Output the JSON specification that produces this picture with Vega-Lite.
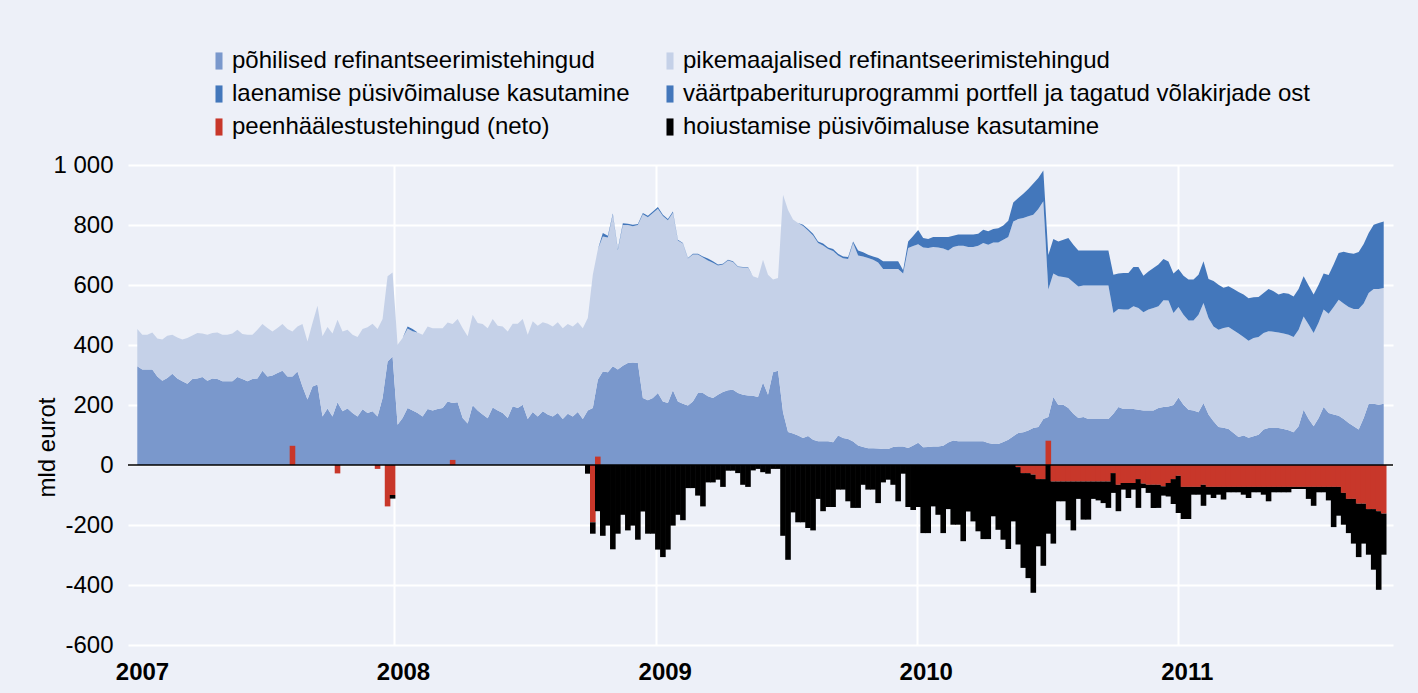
{
"$schema":"https://vega.github.io/schema/vega-lite/v6.json",
"width":1265,"height":480,
"autosize":{"type":"none"},
"padding":{"left":128,"top":165,"right":25,"bottom":48},
"background":"#edf0f8",
"config":{"view":{"stroke":null},"font":"Liberation Sans",
"axisX":{"labelFontSize":24,"labelFontWeight":"bold","labelPadding":15,"labelOffset":9,"labelFlush":false,"ticks":false,"tickSize":0,"domain":false,"gridColor":"#ffffff","gridWidth":2,"labelColor":"#000000","labelOverlap":false},
"axisY":{"labelFontSize":24,"labelPadding":15,"ticks":false,"tickSize":0,"domain":false,"gridColor":"#ffffff","gridWidth":2,"labelColor":"#000000","titleFontSize":24,"titleFontWeight":"normal","titleColor":"#000000"}},
"data":{"values":[
{"d":"2007-01-07","a":329,"b":124,"c":0,"s":0},
{"d":"2007-01-14","a":318,"b":116,"c":0,"s":0},
{"d":"2007-01-21","a":318,"b":116,"c":0,"s":0},
{"d":"2007-01-28","a":318,"b":124,"c":0,"s":0},
{"d":"2007-02-04","a":295,"b":127,"c":0,"s":0},
{"d":"2007-02-11","a":281,"b":137,"c":0,"s":0},
{"d":"2007-02-18","a":290,"b":141,"c":0,"s":0},
{"d":"2007-02-25","a":304,"b":130,"c":0,"s":0},
{"d":"2007-03-04","a":288,"b":137,"c":0,"s":0},
{"d":"2007-03-11","a":279,"b":139,"c":0,"s":0},
{"d":"2007-03-18","a":271,"b":152,"c":0,"s":0},
{"d":"2007-03-25","a":287,"b":145,"c":0,"s":0},
{"d":"2007-04-01","a":288,"b":152,"c":0,"s":0},
{"d":"2007-04-08","a":293,"b":145,"c":0,"s":0},
{"d":"2007-04-15","a":281,"b":153,"c":0,"s":0},
{"d":"2007-04-22","a":288,"b":152,"c":0,"s":0},
{"d":"2007-04-29","a":287,"b":155,"c":0,"s":0},
{"d":"2007-05-06","a":279,"b":155,"c":0,"s":0},
{"d":"2007-05-13","a":279,"b":155,"c":0,"s":0},
{"d":"2007-05-20","a":279,"b":159,"c":0,"s":0},
{"d":"2007-05-27","a":293,"b":158,"c":0,"s":0},
{"d":"2007-06-03","a":287,"b":150,"c":0,"s":0},
{"d":"2007-06-10","a":279,"b":155,"c":0,"s":0},
{"d":"2007-06-17","a":287,"b":147,"c":0,"s":0},
{"d":"2007-06-24","a":288,"b":163,"c":0,"s":0},
{"d":"2007-07-01","a":314,"b":156,"c":0,"s":0},
{"d":"2007-07-08","a":295,"b":162,"c":0,"s":0},
{"d":"2007-07-15","a":298,"b":147,"c":0,"s":0},
{"d":"2007-07-22","a":307,"b":150,"c":0,"s":0},
{"d":"2007-07-29","a":314,"b":156,"c":0,"s":0},
{"d":"2007-08-05","a":295,"b":158,"c":0,"s":0},
{"d":"2007-08-12","a":295,"b":150,"c":0,"s":0,"f":64},
{"d":"2007-08-19","a":312,"b":150,"c":0,"s":0},
{"d":"2007-08-26","a":262,"b":208,"c":0,"s":0},
{"d":"2007-09-02","a":218,"b":194,"c":0,"s":0},
{"d":"2007-09-09","a":262,"b":211,"c":0,"s":0},
{"d":"2007-09-16","a":268,"b":263,"c":0,"s":0},
{"d":"2007-09-23","a":162,"b":267,"c":0,"s":0},
{"d":"2007-09-30","a":188,"b":272,"c":0,"s":0},
{"d":"2007-10-07","a":162,"b":276,"c":0,"s":0},
{"d":"2007-10-14","a":209,"b":275,"c":0,"s":0,"f":-28},
{"d":"2007-10-21","a":179,"b":266,"c":0,"s":0},
{"d":"2007-10-28","a":188,"b":263,"c":0,"s":0},
{"d":"2007-11-04","a":173,"b":261,"c":0,"s":0},
{"d":"2007-11-11","a":162,"b":265,"c":0,"s":0},
{"d":"2007-11-18","a":186,"b":267,"c":0,"s":0},
{"d":"2007-11-25","a":173,"b":286,"c":0,"s":0},
{"d":"2007-12-02","a":179,"b":292,"c":0,"s":0},
{"d":"2007-12-09","a":162,"b":291,"c":0,"s":0,"f":-13},
{"d":"2007-12-16","a":223,"b":264,"c":0,"s":0},
{"d":"2007-12-23","a":345,"b":284,"c":0,"s":0,"f":-138},
{"d":"2007-12-30","a":362,"b":280,"c":0,"s":0,"f":-100,"g":-12},
{"d":"2008-01-06","a":134,"b":267,"c":0,"s":0},
{"d":"2008-01-13","a":157,"b":266,"c":0,"s":0},
{"d":"2008-01-20","a":190,"b":265,"c":7,"s":0},
{"d":"2008-01-27","a":182,"b":264,"c":7,"s":0},
{"d":"2008-02-03","a":173,"b":269,"c":0,"s":0},
{"d":"2008-02-10","a":162,"b":272,"c":0,"s":0},
{"d":"2008-02-17","a":187,"b":275,"c":0,"s":0},
{"d":"2008-02-24","a":182,"b":274,"c":0,"s":0},
{"d":"2008-03-02","a":187,"b":269,"c":0,"s":0},
{"d":"2008-03-09","a":190,"b":266,"c":0,"s":0},
{"d":"2008-03-16","a":212,"b":263,"c":0,"s":0},
{"d":"2008-03-23","a":207,"b":263,"c":0,"s":0,"f":17},
{"d":"2008-03-30","a":209,"b":278,"c":0,"s":0},
{"d":"2008-04-06","a":157,"b":299,"c":0,"s":0},
{"d":"2008-04-13","a":138,"b":291,"c":0,"s":0},
{"d":"2008-04-20","a":199,"b":302,"c":0,"s":0},
{"d":"2008-04-27","a":182,"b":291,"c":0,"s":0},
{"d":"2008-05-04","a":168,"b":302,"c":0,"s":0},
{"d":"2008-05-11","a":156,"b":300,"c":0,"s":0},
{"d":"2008-05-18","a":192,"b":295,"c":0,"s":0},
{"d":"2008-05-25","a":182,"b":282,"c":0,"s":0},
{"d":"2008-06-01","a":173,"b":289,"c":0,"s":0},
{"d":"2008-06-08","a":157,"b":288,"c":0,"s":0},
{"d":"2008-06-15","a":196,"b":275,"c":0,"s":0},
{"d":"2008-06-22","a":190,"b":281,"c":0,"s":0},
{"d":"2008-06-29","a":201,"b":286,"c":0,"s":0},
{"d":"2008-07-06","a":153,"b":281,"c":0,"s":0},
{"d":"2008-07-13","a":177,"b":302,"c":0,"s":0},
{"d":"2008-07-20","a":162,"b":302,"c":0,"s":0},
{"d":"2008-07-27","a":179,"b":297,"c":0,"s":0},
{"d":"2008-08-03","a":168,"b":303,"c":0,"s":0},
{"d":"2008-08-10","a":162,"b":300,"c":0,"s":0},
{"d":"2008-08-17","a":173,"b":303,"c":0,"s":0},
{"d":"2008-08-24","a":153,"b":303,"c":0,"s":0},
{"d":"2008-08-31","a":171,"b":299,"c":0,"s":0},
{"d":"2008-09-07","a":162,"b":300,"c":0,"s":0},
{"d":"2008-09-14","a":177,"b":299,"c":0,"s":0},
{"d":"2008-09-21","a":153,"b":303,"c":0,"s":0},
{"d":"2008-09-28","a":182,"b":308,"c":0,"s":0,"g":-29},
{"d":"2008-10-05","a":190,"b":444,"c":0,"s":0,"f":-191,"g":-38},
{"d":"2008-10-12","a":284,"b":434,"c":0,"s":0,"f":28,"g":-154},
{"d":"2008-10-19","a":312,"b":450,"c":11,"s":0,"g":-236},
{"d":"2008-10-26","a":309,"b":449,"c":6,"s":0,"g":-202},
{"d":"2008-11-02","a":329,"b":505,"c":4,"s":0,"g":-281},
{"d":"2008-11-09","a":318,"b":398,"c":4,"s":0,"g":-229},
{"d":"2008-11-16","a":331,"b":469,"c":6,"s":0,"g":-166},
{"d":"2008-11-23","a":340,"b":460,"c":4,"s":0,"g":-218},
{"d":"2008-11-30","a":342,"b":454,"c":5,"s":0,"g":-202},
{"d":"2008-12-07","a":340,"b":460,"c":3,"s":0,"g":-249},
{"d":"2008-12-14","a":223,"b":613,"c":4,"s":0,"g":-155},
{"d":"2008-12-21","a":216,"b":610,"c":5,"s":0,"g":-229},
{"d":"2008-12-28","a":223,"b":617,"c":5,"s":0,"g":-229},
{"d":"2009-01-04","a":240,"b":614,"c":6,"s":0,"g":-282},
{"d":"2009-01-11","a":212,"b":618,"c":4,"s":0,"g":-307},
{"d":"2009-01-18","a":207,"b":609,"c":4,"s":0,"g":-282},
{"d":"2009-01-25","a":249,"b":592,"c":4,"s":0,"g":-202},
{"d":"2009-02-01","a":212,"b":536,"c":3,"s":0,"g":-166},
{"d":"2009-02-08","a":204,"b":534,"c":2,"s":0,"g":-184},
{"d":"2009-02-15","a":198,"b":490,"c":2,"s":0,"g":-77},
{"d":"2009-02-22","a":212,"b":490,"c":2,"s":0,"g":-77},
{"d":"2009-03-01","a":240,"b":462,"c":2,"s":0,"g":-102},
{"d":"2009-03-08","a":240,"b":452,"c":3,"s":0,"g":-138},
{"d":"2009-03-15","a":229,"b":453,"c":6,"s":0,"g":-58},
{"d":"2009-03-22","a":223,"b":451,"c":5,"s":0,"g":-58},
{"d":"2009-03-29","a":234,"b":431,"c":3,"s":0,"g":-49},
{"d":"2009-04-05","a":243,"b":425,"c":3,"s":0,"g":-73},
{"d":"2009-04-12","a":249,"b":433,"c":2,"s":0,"g":-19},
{"d":"2009-04-19","a":251,"b":426,"c":2,"s":0,"g":-19},
{"d":"2009-04-26","a":240,"b":420,"c":2,"s":0,"g":-27},
{"d":"2009-05-03","a":234,"b":424,"c":2,"s":0,"g":-66},
{"d":"2009-05-10","a":232,"b":426,"c":2,"s":0,"g":-73},
{"d":"2009-05-17","a":231,"b":398,"c":0,"s":0,"g":-18},
{"d":"2009-05-24","a":227,"b":396,"c":0,"s":0,"g":-13},
{"d":"2009-05-31","a":275,"b":409,"c":0,"s":0,"g":-24},
{"d":"2009-06-07","a":234,"b":400,"c":0,"s":0,"g":-29},
{"d":"2009-06-14","a":309,"b":309,"c":0,"s":0,"g":-13},
{"d":"2009-06-21","a":314,"b":309,"c":0,"s":0,"g":-13},
{"d":"2009-06-28","a":176,"b":725,"c":0,"s":0,"g":-236},
{"d":"2009-07-05","a":110,"b":740,"c":0,"s":0,"g":-316},
{"d":"2009-07-12","a":105,"b":713,"c":0,"s":0,"g":-158},
{"d":"2009-07-19","a":98,"b":709,"c":0,"s":0,"g":-191},
{"d":"2009-07-26","a":90,"b":707,"c":0,"s":4,"g":-191},
{"d":"2009-08-02","a":97,"b":685,"c":0,"s":5,"g":-210},
{"d":"2009-08-09","a":84,"b":681,"c":0,"s":6,"g":-218},
{"d":"2009-08-16","a":79,"b":661,"c":0,"s":5,"g":-113},
{"d":"2009-08-23","a":79,"b":653,"c":0,"s":6,"g":-154},
{"d":"2009-08-30","a":79,"b":641,"c":0,"s":5,"g":-140},
{"d":"2009-09-06","a":76,"b":637,"c":0,"s":7,"g":-140},
{"d":"2009-09-13","a":98,"b":600,"c":0,"s":6,"g":-82},
{"d":"2009-09-20","a":90,"b":599,"c":0,"s":6,"g":-82},
{"d":"2009-09-27","a":87,"b":600,"c":0,"s":6,"g":-121},
{"d":"2009-10-04","a":78,"b":662,"c":0,"s":5,"g":-143},
{"d":"2009-10-11","a":65,"b":633,"c":0,"s":17,"g":-143},
{"d":"2009-10-18","a":60,"b":635,"c":0,"s":14,"g":-66},
{"d":"2009-10-25","a":56,"b":634,"c":0,"s":11,"g":-82},
{"d":"2009-11-01","a":56,"b":628,"c":0,"s":11,"g":-82},
{"d":"2009-11-08","a":55,"b":620,"c":0,"s":15,"g":-127},
{"d":"2009-11-15","a":53,"b":600,"c":0,"s":26,"g":-58},
{"d":"2009-11-22","a":53,"b":600,"c":0,"s":26,"g":-49},
{"d":"2009-11-29","a":60,"b":593,"c":0,"s":26,"g":-66},
{"d":"2009-12-06","a":62,"b":591,"c":0,"s":26,"g":-121},
{"d":"2009-12-13","a":62,"b":576,"c":0,"s":11,"g":-29},
{"d":"2009-12-20","a":57,"b":666,"c":0,"s":22,"g":-140},
{"d":"2009-12-27","a":65,"b":665,"c":0,"s":33,"g":-150},
{"d":"2010-01-03","a":74,"b":662,"c":0,"s":47,"g":-140},
{"d":"2010-01-10","a":59,"b":666,"c":0,"s":32,"g":-227},
{"d":"2010-01-17","a":60,"b":663,"c":0,"s":30,"g":-227},
{"d":"2010-01-24","a":62,"b":665,"c":0,"s":33,"g":-138},
{"d":"2010-01-31","a":62,"b":663,"c":0,"s":35,"g":-166},
{"d":"2010-02-07","a":64,"b":658,"c":0,"s":38,"g":-227},
{"d":"2010-02-14","a":75,"b":640,"c":0,"s":45,"g":-147},
{"d":"2010-02-21","a":82,"b":645,"c":0,"s":37,"g":-199},
{"d":"2010-02-28","a":79,"b":652,"c":0,"s":37,"g":-199},
{"d":"2010-03-07","a":79,"b":652,"c":0,"s":37,"g":-254},
{"d":"2010-03-14","a":79,"b":648,"c":0,"s":41,"g":-155},
{"d":"2010-03-21","a":79,"b":648,"c":0,"s":41,"g":-188},
{"d":"2010-03-28","a":79,"b":652,"c":0,"s":40,"g":-221},
{"d":"2010-04-04","a":79,"b":661,"c":0,"s":44,"g":-247},
{"d":"2010-04-11","a":73,"b":661,"c":0,"s":45,"g":-247},
{"d":"2010-04-18","a":70,"b":672,"c":0,"s":45,"g":-171},
{"d":"2010-04-25","a":70,"b":672,"c":0,"s":47,"g":-216},
{"d":"2010-05-02","a":77,"b":674,"c":0,"s":47,"g":-249},
{"d":"2010-05-09","a":84,"b":676,"c":0,"s":54,"g":-280},
{"d":"2010-05-16","a":96,"b":716,"c":0,"s":63,"g":-188},
{"d":"2010-05-23","a":107,"b":713,"c":0,"s":70,"f":-7,"g":-258},
{"d":"2010-05-30","a":109,"b":714,"c":0,"s":81,"f":-27,"g":-316},
{"d":"2010-06-06","a":115,"b":714,"c":0,"s":91,"f":-27,"g":-350},
{"d":"2010-06-13","a":123,"b":711,"c":0,"s":104,"f":-32,"g":-394},
{"d":"2010-06-20","a":127,"b":726,"c":0,"s":104,"f":-47,"g":-224},
{"d":"2010-06-27","a":153,"b":726,"c":0,"s":103,"f":-47,"g":-289},
{"d":"2010-07-04","a":160,"b":425,"c":0,"s":115,"f":81,"g":-229},
{"d":"2010-07-11","a":227,"b":411,"c":0,"s":115,"f":-55,"g":-207},
{"d":"2010-07-18","a":200,"b":429,"c":0,"s":116,"f":-55,"g":-66},
{"d":"2010-07-25","a":201,"b":426,"c":0,"s":124,"f":-55,"g":-66},
{"d":"2010-08-01","a":190,"b":433,"c":0,"s":134,"f":-55,"g":-129},
{"d":"2010-08-08","a":171,"b":438,"c":0,"s":125,"f":-55,"g":-163},
{"d":"2010-08-15","a":157,"b":438,"c":0,"s":120,"f":-55,"g":-58},
{"d":"2010-08-22","a":160,"b":438,"c":0,"s":117,"f":-55,"g":-127},
{"d":"2010-08-29","a":153,"b":445,"c":0,"s":117,"f":-55,"g":-127},
{"d":"2010-09-05","a":153,"b":445,"c":0,"s":117,"f":-55,"g":-58},
{"d":"2010-09-12","a":153,"b":445,"c":0,"s":117,"f":-55,"g":-63},
{"d":"2010-09-19","a":153,"b":445,"c":0,"s":117,"f":-55,"g":-72},
{"d":"2010-09-26","a":153,"b":445,"c":0,"s":117,"f":-55,"g":-88},
{"d":"2010-10-03","a":171,"b":336,"c":0,"s":127,"f":-27,"g":-66},
{"d":"2010-10-10","a":193,"b":327,"c":0,"s":118,"f":-66,"g":-88},
{"d":"2010-10-17","a":187,"b":331,"c":0,"s":122,"f":-60,"g":-22},
{"d":"2010-10-24","a":187,"b":331,"c":0,"s":122,"f":-60,"g":-50},
{"d":"2010-10-31","a":187,"b":342,"c":0,"s":131,"f":-60,"g":-22},
{"d":"2010-11-07","a":184,"b":339,"c":0,"s":137,"f":-47,"g":-96},
{"d":"2010-11-14","a":182,"b":327,"c":0,"s":122,"f":-62,"g":-15},
{"d":"2010-11-21","a":182,"b":336,"c":0,"s":127,"f":-66,"g":-27},
{"d":"2010-11-28","a":182,"b":341,"c":0,"s":134,"f":-66,"g":-77},
{"d":"2010-12-05","a":190,"b":339,"c":0,"s":139,"f":-66,"g":-77},
{"d":"2010-12-12","a":193,"b":356,"c":0,"s":138,"f":-71,"g":-31},
{"d":"2010-12-19","a":195,"b":353,"c":0,"s":130,"f":-60,"g":-45},
{"d":"2010-12-26","a":200,"b":307,"c":0,"s":131,"f":-47,"g":-83},
{"d":"2011-01-02","a":225,"b":302,"c":0,"s":126,"f":-36,"g":-124},
{"d":"2011-01-09","a":201,"b":300,"c":0,"s":130,"f":-73,"g":-107},
{"d":"2011-01-16","a":184,"b":298,"c":0,"s":136,"f":-73,"g":-107},
{"d":"2011-01-23","a":182,"b":300,"c":0,"s":136,"f":-73,"g":-26},
{"d":"2011-01-30","a":176,"b":325,"c":0,"s":133,"f":-73,"g":-26},
{"d":"2011-02-06","a":207,"b":333,"c":0,"s":139,"f":-66,"g":-70},
{"d":"2011-02-13","a":168,"b":322,"c":0,"s":130,"f":-73,"g":-26},
{"d":"2011-02-20","a":146,"b":316,"c":0,"s":151,"f":-73,"g":-37},
{"d":"2011-02-27","a":127,"b":324,"c":0,"s":150,"f":-73,"g":-26},
{"d":"2011-03-06","a":124,"b":333,"c":0,"s":134,"f":-73,"g":-42},
{"d":"2011-03-13","a":120,"b":340,"c":0,"s":136,"f":-73,"g":-18},
{"d":"2011-03-20","a":107,"b":342,"c":0,"s":138,"f":-73,"g":-18},
{"d":"2011-03-27","a":93,"b":345,"c":0,"s":139,"f":-73,"g":-18},
{"d":"2011-04-03","a":98,"b":329,"c":0,"s":141,"f":-73,"g":-26},
{"d":"2011-04-10","a":91,"b":323,"c":0,"s":142,"f":-73,"g":-37},
{"d":"2011-04-17","a":96,"b":327,"c":0,"s":136,"f":-73,"g":-18},
{"d":"2011-04-24","a":101,"b":326,"c":0,"s":133,"f":-73,"g":-18},
{"d":"2011-05-01","a":118,"b":322,"c":0,"s":133,"f":-73,"g":-26},
{"d":"2011-05-08","a":123,"b":323,"c":0,"s":141,"f":-73,"g":-48},
{"d":"2011-05-15","a":123,"b":321,"c":0,"s":135,"f":-73,"g":-18},
{"d":"2011-05-22","a":123,"b":319,"c":0,"s":126,"f":-73,"g":-18},
{"d":"2011-05-29","a":120,"b":318,"c":0,"s":135,"f":-73,"g":-18},
{"d":"2011-06-05","a":116,"b":318,"c":0,"s":137,"f":-73,"g":-18},
{"d":"2011-06-12","a":109,"b":318,"c":0,"s":135,"f":-73,"g":-7},
{"d":"2011-06-19","a":129,"b":322,"c":0,"s":136,"f":-73,"g":-7},
{"d":"2011-06-26","a":184,"b":311,"c":0,"s":134,"f":-73,"g":-7},
{"d":"2011-07-03","a":153,"b":315,"c":0,"s":130,"f":-73,"g":-40},
{"d":"2011-07-10","a":129,"b":311,"c":0,"s":128,"f":-73,"g":-63},
{"d":"2011-07-17","a":157,"b":318,"c":0,"s":126,"f":-73,"g":-18},
{"d":"2011-07-24","a":193,"b":325,"c":0,"s":120,"f":-73,"g":-18},
{"d":"2011-07-31","a":173,"b":331,"c":0,"s":129,"f":-73,"g":-45},
{"d":"2011-08-07","a":168,"b":359,"c":0,"s":141,"f":-73,"g":-134},
{"d":"2011-08-14","a":164,"b":387,"c":0,"s":156,"f":-73,"g":-96},
{"d":"2011-08-21","a":153,"b":385,"c":0,"s":173,"f":-93,"g":-106},
{"d":"2011-08-28","a":140,"b":387,"c":0,"s":180,"f":-113,"g":-114},
{"d":"2011-09-04","a":129,"b":391,"c":0,"s":184,"f":-113,"g":-149},
{"d":"2011-09-11","a":118,"b":402,"c":0,"s":190,"f":-129,"g":-178},
{"d":"2011-09-18","a":157,"b":381,"c":0,"s":199,"f":-129,"g":-133},
{"d":"2011-09-25","a":204,"b":369,"c":0,"s":200,"f":-147,"g":-152},
{"d":"2011-10-02","a":204,"b":383,"c":0,"s":214,"f":-147,"g":-202},
{"d":"2011-10-09","a":201,"b":386,"c":0,"s":220,"f":-154,"g":-262},
{"d":"2011-10-16","a":204,"b":386,"c":0,"s":222,"f":-162,"g":-137}
]},
"layer":[
{"transform":[{"fold":["a","b","c","s"],"as":["key","value"]}],
 "mark":{"type":"area","interpolate":"linear"},
 "encoding":{
  "x":{"field":"d","type":"temporal","scale":{"domain":[{"year":2007,"month":1,"date":1},{"year":2011,"month":10,"date":22}]},"axis":{"title":null,"format":"%Y","grid":true,"values":[{"year":2007,"month":1,"date":1},{"year":2008,"month":1,"date":1},{"year":2009,"month":1,"date":1},{"year":2010,"month":1,"date":1},{"year":2011,"month":1,"date":1}],"gridOpacity":{"condition":{"test":"year(datum.value) == 2007","value":0},"value":1}}},
  "y":{"field":"value","type":"quantitative","stack":"zero","scale":{"domain":[-600,1000],"nice":false},"axis":{"title":"mld eurot","grid":true,"values":[-600,-400,-200,0,200,400,600,800,1000],"labelExpr":"replace(replace(format(datum.value, ','), ',', ' '), '\u2212', '-')","titleX":-74,"titleY":282,"titleBaseline":"alphabetic","titleAngle":-90}},
  "color":{"field":"key","type":"nominal","scale":{"domain":["a","c","f","b","s","g"],"range":["#7a98cc","#4377bb","#c8372a","#c5d1e8","#4377bb","#000000"]},
   "legend":{"orient":"none","legendX":79,"legendY":-116,"columns":2,"columnPadding":28,"rowPadding":9,"padding":0,"title":null,"symbolType":"M-0.39,-0.95H0.39V0.95H-0.39Z","symbolSize":324,"symbolStrokeWidth":0,"symbolOpacity":1,"labelFontSize":24,"labelColor":"#000000","labelLimit":700,"labelOffset":1,
    "labelExpr":"datum.label == 'a' ? 'põhilised refinantseerimistehingud' : datum.label == 'b' ? 'pikemaajalised refinantseerimistehingud' : datum.label == 'c' ? 'laenamise püsivõimaluse kasutamine' : datum.label == 's' ? 'väärtpaberituruprogrammi portfell ja tagatud võlakirjade ost' : datum.label == 'f' ? 'peenhäälestustehingud (neto)' : 'hoiustamise püsivõimaluse kasutamine'"}},
  "order":{"field":"key","sort":"ascending"}}},
{"transform":[{"fold":["f","g"],"as":["key","value"]},{"filter":"isValid(datum.value)"}],
 "mark":{"type":"bar","size":5.6},
 "encoding":{
  "x":{"field":"d","type":"temporal","axis":{"title":null,"format":"%Y","grid":true,"values":[{"year":2007,"month":1,"date":1},{"year":2008,"month":1,"date":1},{"year":2009,"month":1,"date":1},{"year":2010,"month":1,"date":1},{"year":2011,"month":1,"date":1}],"gridOpacity":{"condition":{"test":"year(datum.value) == 2007","value":0},"value":1}}},
  "y":{"field":"value","type":"quantitative","stack":"zero","axis":{"title":"mld eurot","grid":true,"values":[-600,-400,-200,0,200,400,600,800,1000],"labelExpr":"replace(replace(format(datum.value, ','), ',', ' '), '\u2212', '-')","titleX":-74,"titleY":282,"titleBaseline":"alphabetic","titleAngle":-90}},
  "color":{"field":"key","type":"nominal",
   "legend":{"orient":"none","legendX":79,"legendY":-116,"columns":2,"columnPadding":28,"rowPadding":9,"padding":0,"title":null,"symbolType":"M-0.39,-0.95H0.39V0.95H-0.39Z","symbolSize":324,"symbolStrokeWidth":0,"symbolOpacity":1,"labelFontSize":24,"labelColor":"#000000","labelLimit":700,"labelOffset":1,
    "labelExpr":"datum.label == 'a' ? 'põhilised refinantseerimistehingud' : datum.label == 'b' ? 'pikemaajalised refinantseerimistehingud' : datum.label == 'c' ? 'laenamise püsivõimaluse kasutamine' : datum.label == 's' ? 'väärtpaberituruprogrammi portfell ja tagatud võlakirjade ost' : datum.label == 'f' ? 'peenhäälestustehingud (neto)' : 'hoiustamise püsivõimaluse kasutamine'"}},
  "order":{"field":"key","sort":"ascending"}}},
{"data":{"values":[{}]},
 "mark":{"type":"rule","color":"#000000","strokeWidth":1.5},
 "encoding":{"y":{"datum":0}}}
]
}
